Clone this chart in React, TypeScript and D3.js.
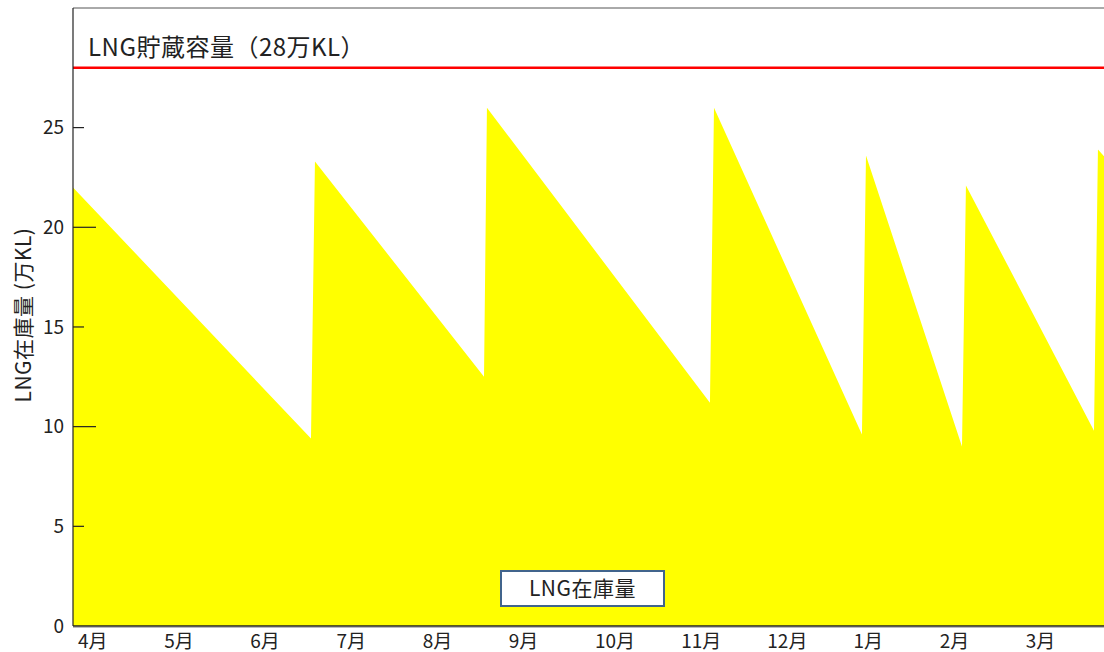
import { area, scaleLinear } from 'd3'

// month index (0 = start of April) and stock in 万KL
const stockMonths = [
  0, 2.762, 2.808, 4.77, 4.804, 7.392, 7.439, 9.156, 9.203, 10.317, 10.363, 11.849, 11.895, 12,
]
const stockValues = [22.0, 9.4, 23.3, 12.5, 26.0, 11.2, 26.0, 9.6, 23.6, 9.0, 22.1, 9.8, 23.9, 23.4]

const monthLabels = ['4月', '5月', '6月', '7月', '8月', '9月', '10月', '11月', '12月', '1月', '2月', '3月']
const yTickValues = [0, 5, 10, 15, 20, 25]
const capacity = 28

const width = 1104
const height = 652
const plot = { left: 73, right: 1107, top: 8, bottom: 626 }

const font = '"Noto Sans CJK JP", "Noto Sans", sans-serif'

function App() {
  const xScale = scaleLinear().domain([0, 12]).range([plot.left, plot.right])
  const yScale = scaleLinear().domain([0, 31]).range([plot.bottom, plot.top])

  const points = stockMonths.map((m, i) => ({ m, v: stockValues[i] }))
  const stockArea = area<{ m: number; v: number }>()
    .x((d) => xScale(d.m))
    .y0(yScale(0))
    .y1((d) => yScale(d.v))

  return (
    <svg
      width={width}
      height={height}
      viewBox={`0 0 ${width} ${height}`}
      style={{ position: 'absolute', left: 0, top: 0, background: '#fff' }}
      fontFamily={font}
    >
      <defs>
        <clipPath id="plot-clip">
          <rect x={plot.left} y={plot.top} width={width - plot.left} height={plot.bottom - plot.top} />
        </clipPath>
      </defs>

      <g clipPath="url(#plot-clip)">
        <path d={stockArea(points) ?? ''} fill="#ffff00" />
      </g>

      {/* capacity line */}
      <line
        x1={plot.left}
        x2={width}
        y1={yScale(capacity)}
        y2={yScale(capacity)}
        stroke="#ff0000"
        strokeWidth={2.5}
      />
      <text x={88} y={56} fontSize={24} fill="#222" letterSpacing={0.5}>
        LNG貯蔵容量（28万KL）
      </text>

      {/* frame */}
      <line x1={plot.left} x2={width} y1={plot.top} y2={plot.top} stroke="#555" strokeWidth={1} />
      <line x1={plot.left} x2={plot.left} y1={plot.top} y2={plot.bottom} stroke="#222" strokeWidth={1.2} />
      <line x1={plot.left} x2={width} y1={plot.bottom} y2={plot.bottom} stroke="#222" strokeWidth={1.5} />
      <line x1={plot.left} x2={width} y1={plot.bottom + 1.5} y2={plot.bottom + 1.5} stroke="#bbb" strokeWidth={1} />

      {/* y ticks */}
      {yTickValues.map((tick) => {
        const y = yScale(tick)
        const len = tick === 10 || tick === 20 ? 23 : 11
        return (
          <g key={tick}>
            {tick > 0 && (
              <line x1={plot.left} x2={plot.left + len} y1={y} y2={y} stroke="#222" strokeWidth={1.2} />
            )}
            <text x={64} y={y} dy="0.35em" textAnchor="end" fontSize={19} fill="#222">
              {tick}
            </text>
          </g>
        )
      })}

      {/* month labels */}
      {monthLabels.map((label, i) => (
        <text key={label} x={xScale(i) + 5} y={648} fontSize={19} fill="#222">
          {label}
        </text>
      ))}

      <text
        transform={`translate(24, 315) rotate(-90)`}
        textAnchor="middle"
        dy="0.35em"
        fontSize={21}
        fill="#222"
        letterSpacing={0.5}
      >
        LNG在庫量 (万KL)
      </text>

      {/* legend box */}
      <rect x={501} y={571} width={163} height={35} fill="#fff" stroke="#41648c" strokeWidth={2} />
      <text x={582.5} y={589} dy="0.35em" textAnchor="middle" fontSize={21} fill="#222" letterSpacing={0.5}>
        LNG在庫量
      </text>
    </svg>
  )
}

export default App
